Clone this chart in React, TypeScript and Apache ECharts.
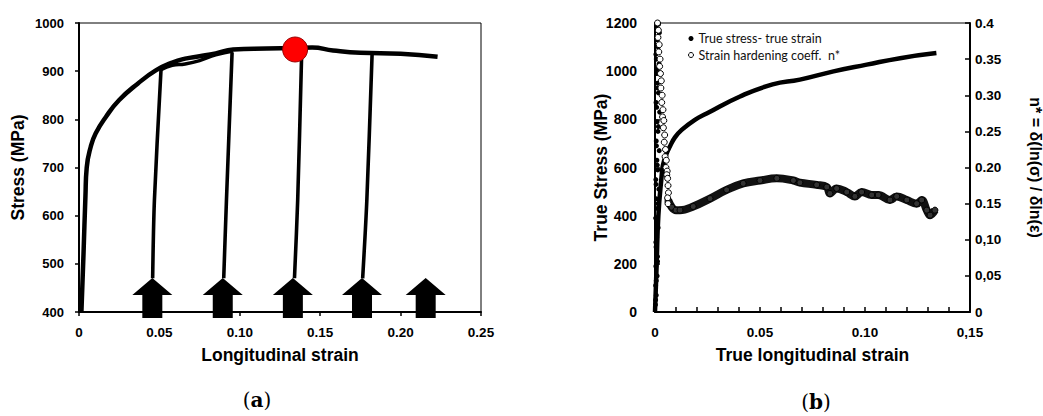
import React, { useEffect, useRef } from 'react';
import * as echarts from 'echarts';

// ---------- Panel (a): stress vs longitudinal strain ----------
const aXTickLabels = ['0', '0.05', '0.10', '0.15', '0.20', '0.25'];
const aYTickLabels = ['400', '500', '600', '700', '800', '900', '1000'];

const envStrain = [0.0015, 0.0028, 0.004, 0.0048, 0.0073, 0.0104, 0.0167, 0.025, 0.0365, 0.048, 0.058, 0.066, 0.075, 0.085, 0.0958, 0.1167, 0.134, 0.145, 0.158, 0.175, 0.2, 0.223];
const envStress = [400, 520, 640, 700, 743, 771, 805, 840, 874, 902, 918, 926, 931, 937, 945, 947, 948, 949, 943, 938, 936, 930];

const reloadStrain = [0.051, 0.058, 0.066, 0.075, 0.085, 0.0958];
const reloadStress = [903, 912, 915, 922, 934, 942];

const unload1Strain = [0.051, 0.0469, 0.0458];
const unload1Stress = [903, 632, 470];
const unload2Strain = [0.0952, 0.0917, 0.09];
const unload2Stress = [939, 632, 470];
const unload3Strain = [0.1385, 0.136, 0.134];
const unload3Stress = [940, 632, 470];
const unload4Strain = [0.1823, 0.179, 0.1764];
const unload4Stress = [938, 632, 470];

const arrowStrain = [0.0456, 0.0894, 0.133, 0.176, 0.2156];
const arrowStress = [429, 429, 429, 429, 429];

const peakStrain = [0.1344];
const peakStress = [945];

// ---------- Panel (b): true stress & n* vs true strain ----------
const bXTickLabels = ['0', '0.05', '0.10', '0,15'];
const bYTickLabels = ['0', '200', '400', '600', '800', '1000', '1200'];
const bY2TickLabels = ['0', '0,05', '0,10', '0.15', '0.20', '0.25', '0.30', '0.35', '0.4'];

const trueStrain = [0, 0.0008, 0.0016, 0.0032, 0.0038, 0.0056, 0.0071, 0.0095, 0.0127, 0.019, 0.0246, 0.0405, 0.056, 0.069, 0.085, 0.1008, 0.1167, 0.134];
const trueStress = [0, 200, 400, 569, 610, 659, 687, 725, 756, 798, 824, 895, 945, 965, 999, 1027, 1054, 1075];

const elasticStrain = [0.0002, 0.0006, 0.0003, 0.001, 0.0004, 0.0012, 0.0005, 0.0008, 0.0015, 0.0003, 0.0011, 0.0007, 0.0018, 0.0004, 0.0013, 0.0009, 0.002, 0.0006, 0.0014, 0.001, 0.0022, 0.0005, 0.0016, 0.0012, 0.0008, 0.0019, 0.0004, 0.0015, 0.0011, 0.0021, 0.0007, 0.0017, 0.0009, 0.0003, 0.0006, 0.0012, 0.0004, 0.0009, 0.0014, 0.0005, 0.0011, 0.0007, 0.0016, 0.0008, 0.0013, 0.0006];
const elasticStress = [30, 70, 110, 150, 190, 230, 270, 310, 350, 390, 430, 470, 510, 550, 590, 630, 670, 710, 750, 790, 830, 870, 910, 950, 990, 1030, 1070, 1100, 1130, 1160, 1180, 1195, 1010, 50, 130, 210, 290, 370, 450, 530, 610, 690, 770, 850, 930, 1050];

const nEarlyStrain = [0.0012, 0.0016, 0.0014, 0.002, 0.0018, 0.0024, 0.0022, 0.0026, 0.003, 0.0028, 0.0034, 0.0032, 0.0038, 0.0036, 0.0042, 0.004, 0.0046, 0.0044, 0.005, 0.0048, 0.0054, 0.0052, 0.0058, 0.0056, 0.006, 0.0062, 0.0064, 0.006, 0.0062];
const nEarlyValue = [0.4, 0.39, 0.38, 0.37, 0.36, 0.35, 0.34, 0.33, 0.32, 0.31, 0.3, 0.29, 0.28, 0.27, 0.265, 0.255, 0.245, 0.235, 0.225, 0.215, 0.21, 0.2, 0.195, 0.19, 0.185, 0.175, 0.165, 0.158, 0.15];

const nStrain = [0.0062, 0.008, 0.01, 0.0119, 0.0182, 0.0262, 0.0341, 0.042, 0.05, 0.058, 0.0659, 0.069, 0.077, 0.0818, 0.0833, 0.0865, 0.0913, 0.0952, 0.0984, 0.1032, 0.1063, 0.1119, 0.1151, 0.1199, 0.1246, 0.127, 0.1294, 0.131, 0.1333];
const nValue = [0.155, 0.145, 0.141, 0.141, 0.146, 0.157, 0.169, 0.178, 0.182, 0.185, 0.182, 0.179, 0.176, 0.173, 0.164, 0.171, 0.166, 0.16, 0.166, 0.162, 0.162, 0.155, 0.16, 0.155, 0.15, 0.155, 0.141, 0.134, 0.141];

const STRESS_NAME = 'True stress- true strain';
const N_NAME = 'Strain hardening coeff.  n*';

const zip = (xs: number[], ys: number[]) => xs.map((x, i) => [x, ys[i]]);

const SANS = 'Liberation Sans, Arial, sans-serif';
const tickFont = { fontFamily: SANS, fontWeight: 'bold' as const, color: '#000' };
const nameFont = { fontFamily: SANS, fontWeight: 'bold' as const, fontSize: 17.5, color: '#000' };
const ARROW = 'path://M20 0L40 17L30 17L30 40L10 40L10 17L0 17Z';

function buildOption() {
  const unloadSeries = [
    [unload1Strain, unload1Stress],
    [unload2Strain, unload2Stress],
    [unload3Strain, unload3Stress],
    [unload4Strain, unload4Stress],
  ].map(([xs, ys]) => ({
    type: 'line',
    xAxisIndex: 0,
    yAxisIndex: 0,
    data: zip(xs, ys),
    smooth: 0.3,
    symbol: 'none',
    lineStyle: { color: '#000', width: 3.6 },
    z: 3,
  }));

  return {
    animation: false,
    backgroundColor: '#fff',
    grid: [
      { left: 79, top: 23, width: 402, height: 289, show: true, borderColor: '#000', borderWidth: 1, outerBoundsMode: 'none' },
      { left: 655, top: 23, width: 315, height: 289, show: true, borderColor: '#000', borderWidth: 1, outerBoundsMode: 'none' },
    ],
    legend: {
      orient: 'vertical',
      left: 683,
      top: 27,
      itemWidth: 5,
      itemHeight: 5,
      itemGap: 3.5,
      selectedMode: false,
      textStyle: { fontFamily: 'Lato, sans-serif', fontSize: 12.5, color: '#111' },
      data: [
        { name: STRESS_NAME, icon: 'circle', itemStyle: { color: '#000', borderWidth: 0 } },
        { name: N_NAME, icon: 'circle', itemStyle: { color: '#fff', borderColor: '#000', borderWidth: 1 } },
      ],
    },
    xAxis: [
      {
        gridIndex: 0,
        type: 'value',
        min: 0,
        max: 0.25,
        interval: 0.05,
        axisLine: { show: true, onZero: false, lineStyle: { color: '#000', width: 2 } },
        axisTick: { show: true, inside: false, length: 4, lineStyle: { color: '#000', width: 1.5 } },
        axisLabel: {
          ...tickFont,
          fontSize: 13.5,
          margin: 13,
          showMinLabel: true,
          showMaxLabel: true,
          formatter: (v: number) => aXTickLabels[Math.round(v / 0.05)] ?? '',
        },
        splitLine: { show: false },
        name: 'Longitudinal strain',
        nameLocation: 'middle',
        nameGap: 34,
        nameMoveOverlap: false,
        nameTextStyle: nameFont,
      },
      {
        gridIndex: 1,
        type: 'value',
        min: 0,
        max: 0.15,
        interval: 0.01,
        axisLine: { show: true, onZero: false, lineStyle: { color: '#000', width: 2 } },
        axisTick: { show: true, inside: true, length: 5, lineStyle: { color: '#000', width: 1.5 } },
        axisLabel: {
          ...tickFont,
          fontSize: 13.5,
          margin: 13,
          showMinLabel: true,
          showMaxLabel: true,
          hideOverlap: false,
          formatter: (v: number) => {
            const i = Math.round(v / 0.01);
            return i % 5 === 0 ? bXTickLabels[i / 5] ?? '' : '';
          },
        },
        splitLine: { show: false },
        name: 'True longitudinal strain',
        nameLocation: 'middle',
        nameGap: 34,
        nameMoveOverlap: false,
        nameTextStyle: nameFont,
      },
    ],
    yAxis: [
      {
        gridIndex: 0,
        type: 'value',
        min: 400,
        max: 1000,
        interval: 100,
        axisLine: { show: true, lineStyle: { color: '#000', width: 2 } },
        axisTick: { show: true, inside: false, length: 4, lineStyle: { color: '#000', width: 1.5 } },
        axisLabel: {
          ...tickFont,
          fontSize: 13,
          margin: 15,
          formatter: (v: number) => aYTickLabels[Math.round((v - 400) / 100)] ?? '',
        },
        splitLine: { show: false },
        name: 'Stress (MPa)',
        nameLocation: 'middle',
        nameGap: 52,
        nameMoveOverlap: false,
        nameTextStyle: nameFont,
      },
      {
        gridIndex: 1,
        type: 'value',
        min: 0,
        max: 1200,
        interval: 200,
        axisLine: { show: true, lineStyle: { color: '#000', width: 2 } },
        axisTick: { show: true, inside: true, length: 5, lineStyle: { color: '#000', width: 1.5 } },
        axisLabel: {
          ...tickFont,
          fontSize: 14,
          margin: 18,
          formatter: (v: number) => bYTickLabels[Math.round(v / 200)] ?? '',
        },
        splitLine: { show: false },
        name: 'True Stress (MPa)',
        nameLocation: 'middle',
        nameGap: 45,
        nameMoveOverlap: false,
        nameTextStyle: nameFont,
      },
      {
        gridIndex: 1,
        type: 'value',
        position: 'right',
        min: 0,
        max: 0.4,
        interval: 0.05,
        axisLine: { show: true, lineStyle: { color: '#000', width: 2 } },
        axisTick: { show: true, inside: true, length: 5, lineStyle: { color: '#000', width: 1.5 } },
        axisLabel: {
          ...tickFont,
          fontSize: 13.5,
          margin: 5,
          formatter: (v: number) => bY2TickLabels[Math.round(v / 0.05)] ?? '',
        },
        splitLine: { show: false },
        name: 'n* = δ(ln(σ) / δln(ε)',
        nameLocation: 'middle',
        nameRotate: -90,
        nameGap: 57,
        nameMoveOverlap: false,
        nameTextStyle: { ...nameFont, fontSize: 16 },
      },
    ],
    series: [
      {
        type: 'line',
        xAxisIndex: 0,
        yAxisIndex: 0,
        data: zip(envStrain, envStress),
        smooth: 0.5,
        symbol: 'none',
        lineStyle: { color: '#000', width: 4.5 },
        z: 3,
      },
      {
        type: 'line',
        xAxisIndex: 0,
        yAxisIndex: 0,
        data: zip(reloadStrain, reloadStress),
        smooth: 0.5,
        symbol: 'none',
        lineStyle: { color: '#000', width: 3.5 },
        z: 3,
      },
      ...unloadSeries,
      {
        type: 'scatter',
        xAxisIndex: 0,
        yAxisIndex: 0,
        data: zip(arrowStrain, arrowStress),
        symbol: ARROW,
        symbolSize: [40, 40],
        itemStyle: { color: '#000', opacity: 1 },
        z: 4,
      },
      {
        type: 'scatter',
        xAxisIndex: 0,
        yAxisIndex: 0,
        data: zip(peakStrain, peakStress),
        symbol: 'circle',
        symbolSize: 25,
        itemStyle: { color: '#ff0000', borderColor: '#9a0000', borderWidth: 1, opacity: 1 },
        z: 6,
      },
      // Panel (b)
      {
        name: STRESS_NAME,
        type: 'line',
        xAxisIndex: 1,
        yAxisIndex: 1,
        data: zip(trueStrain, trueStress),
        smooth: 0.5,
        symbol: 'none',
        lineStyle: { color: '#000', width: 4.5 },
        itemStyle: { color: '#000' },
        z: 3,
      },
      {
        name: STRESS_NAME,
        type: 'scatter',
        xAxisIndex: 1,
        yAxisIndex: 1,
        data: zip(elasticStrain, elasticStress),
        symbol: 'circle',
        symbolSize: 5,
        itemStyle: { color: '#000', opacity: 1 },
        z: 3,
      },
      {
        name: N_NAME,
        type: 'line',
        xAxisIndex: 1,
        yAxisIndex: 2,
        data: zip(nStrain, nValue),
        smooth: 0.4,
        symbol: 'circle',
        symbolSize: 6,
        showAllSymbol: true,
        lineStyle: { color: '#111', width: 8 },
        itemStyle: { color: '#333', borderColor: '#000', borderWidth: 1 },
        z: 3,
      },
      {
        name: N_NAME,
        type: 'scatter',
        xAxisIndex: 1,
        yAxisIndex: 2,
        data: zip(nEarlyStrain, nEarlyValue),
        symbol: 'circle',
        symbolSize: 6,
        itemStyle: { color: '#fff', borderColor: '#000', borderWidth: 1, opacity: 1 },
        z: 4,
      },
    ],
    graphic: [
      {
        type: 'text',
        x: 257,
        y: 400,
        style: {
          text: '{p|(}{b|a}{p|)}',
          align: 'center',
          verticalAlign: 'middle',
          rich: {
            p: { fontFamily: 'DejaVu Serif, serif', fontSize: 20, fill: '#000' },
            b: { fontFamily: 'DejaVu Serif, serif', fontSize: 20, fontWeight: 'bold', fill: '#000' },
          },
        },
      },
      {
        type: 'text',
        x: 816,
        y: 402,
        style: {
          text: '{p|(}{b|b}{p|)}',
          align: 'center',
          verticalAlign: 'middle',
          rich: {
            p: { fontFamily: 'DejaVu Serif, serif', fontSize: 20, fill: '#000' },
            b: { fontFamily: 'DejaVu Serif, serif', fontSize: 20, fontWeight: 'bold', fill: '#000' },
          },
        },
      },
    ],
  };
}

export default function App() {
  const ref = useRef<HTMLDivElement>(null);
  useEffect(() => {
    document.body.style.margin = '0';
    if (!ref.current) return;
    const chart = echarts.init(ref.current, undefined, { renderer: 'svg' });
    chart.setOption(buildOption() as any);
    return () => chart.dispose();
  }, []);
  return <div ref={ref} style={{ width: 1043, height: 416 }} />;
}
